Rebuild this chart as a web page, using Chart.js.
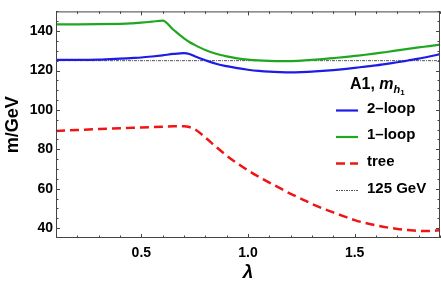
<!DOCTYPE html>
<html>
<head>
<meta charset="utf-8">
<script src="https://cdn.jsdelivr.net/npm/chart.js@4"></script>
<style>
  html, body { margin: 0; padding: 0; background: #fff; }
  #wrap { position: relative; width: 441px; height: 288px; }
</style>
</head>
<body>
<div id="wrap"><canvas id="massChart" width="441" height="288"></canvas></div>
<script>
// lambda values (x) shared by all curves
const lambdas = [0.1, 0.2, 0.3, 0.4, 0.45, 0.5, 0.55, 0.6, 0.65, 0.7, 0.725, 0.75,
    0.8, 0.85, 0.9, 0.95, 1.0, 1.05, 1.1, 1.15, 1.2, 1.25, 1.3, 1.35, 1.4, 1.45,
    1.5, 1.55, 1.6, 1.65, 1.7, 1.75, 1.8, 1.85, 1.9];

// m_h1 in GeV
const twoLoop = [125.4, 125.4, 125.5, 126.0, 126.3, 126.6, 127.1, 127.7, 128.4, 128.8, 128.4, 127.2,
    125.2, 123.4, 122.2, 121.2, 120.4, 119.8, 119.4, 119.2, 119.1, 119.2, 119.4, 119.8, 120.2, 120.7,
    121.3, 122.0, 122.6, 123.4, 124.2, 125.1, 126.0, 127.1, 128.3];
const oneLoop = [143.4, 143.4, 143.5, 143.7, 143.9, 144.3, 144.8, 145.3, 140.7, 136.3, 134.5, 133.0,
    130.4, 128.5, 127.2, 126.2, 125.5, 125.1, 124.9, 124.8, 124.8, 125.0, 125.4, 125.8, 126.3, 126.8,
    127.4, 128.0, 128.7, 129.4, 130.2, 131.0, 131.7, 132.4, 133.1];
const treeLevel = [89.3, 89.8, 90.3, 90.7, 90.9, 91.1, 91.3, 91.5, 91.7, 91.7, 91.3, 90.3,
    86.0, 81.3, 76.8, 72.9, 69.3, 66.1, 63.1, 60.3, 57.4, 54.9, 52.3, 50.0, 48.0, 46.0,
    44.1, 42.6, 41.4, 40.4, 39.6, 39.0, 38.6, 38.6, 38.9];
const refLambdas = [0.1, 1.9];
const refMass = [125, 125];

const seriesLabels = ['2\u2013loop', '1\u2013loop', 'tree', '125 GeV'];
const xTicks = [0.5, 1.0, 1.5];
const yTicks = [40, 60, 80, 100, 120, 140];
const xMinorStep = 0.1;
const yMinorStep = 5;

function pts(xs, ys) {
    return xs.map(function(x, i) { return { x: x, y: ys[i] }; });
}

Chart.defaults.font.family = '"Liberation Sans", Arial, sans-serif';
Chart.defaults.color = '#000';

// frame with small inward ticks on all four sides
const framePlugin = {
    id: 'frame',
    afterDatasetsDraw(chart) {
        const ctx = chart.ctx;
        const a = chart.chartArea;
        const xs = chart.scales.x, ys = chart.scales.y;
        ctx.save();
        ctx.strokeStyle = '#444';
        ctx.lineWidth = 1;
        ctx.strokeRect(a.left + 0.5, a.top + 0.5, a.right - a.left - 1, a.bottom - a.top - 1);
        ctx.beginPath();
        for (let v = xs.min; v <= xs.max + 1e-9; v += xMinorStep) {
            const major = xTicks.some(function(t) { return Math.abs(t - v) < 1e-6; });
            const len = major ? 4 : 2.5;
            const px = Math.round(xs.getPixelForValue(v)) + 0.5;
            ctx.moveTo(px, a.bottom); ctx.lineTo(px, a.bottom - len);
            ctx.moveTo(px, a.top); ctx.lineTo(px, a.top + len);
        }
        for (let v = 40; v <= ys.max; v += yMinorStep) {
            const major = yTicks.indexOf(v) >= 0;
            const len = major ? 4 : 2.5;
            const py = Math.round(ys.getPixelForValue(v)) + 0.5;
            ctx.moveTo(a.left, py); ctx.lineTo(a.left + len, py);
            ctx.moveTo(a.right, py); ctx.lineTo(a.right - len, py);
        }
        ctx.stroke();
        ctx.restore();
    }
};

// legend drawn inside the plot, with the sub-subscript title
const legendPlugin = {
    id: 'innerLegend',
    afterDraw(chart) {
        const ctx = chart.ctx;
        ctx.save();
        ctx.fillStyle = '#000';
        ctx.textBaseline = 'alphabetic';
        let x = 350;
        ctx.font = 'bold 16px "Liberation Sans", Arial, sans-serif';
        ctx.fillText('A1, ', x, 89);
        x += ctx.measureText('A1, ').width;
        ctx.font = 'italic bold 16px "Liberation Sans", Arial, sans-serif';
        ctx.fillText('m', x, 89);
        x += ctx.measureText('m').width;
        ctx.font = 'italic bold 11px "Liberation Sans", Arial, sans-serif';
        ctx.fillText('h', x, 93);
        x += ctx.measureText('h').width;
        ctx.font = 'bold 8px "Liberation Sans", Arial, sans-serif';
        ctx.fillText('1', x, 95);

        ctx.font = 'bold 15px "Liberation Sans", Arial, sans-serif';
        ctx.textBaseline = 'middle';
        const rows = [108.5, 135, 161.5, 188.5];
        chart.data.datasets.forEach(function(ds, i) {
            const y = rows[i];
            ctx.beginPath();
            ctx.strokeStyle = ds.borderColor;
            ctx.lineWidth = ds.borderWidth;
            ctx.setLineDash(i === 3 ? [2, 1, 1, 1] : (ds.borderDash || []));
            ctx.moveTo(336, y + 2);
            ctx.lineTo(358, y + 2);
            ctx.stroke();
            ctx.setLineDash([]);
            ctx.fillText(ds.label, 367, y);
        });
        ctx.restore();
    }
};

const canvas = document.getElementById('massChart');
new Chart(canvas.getContext('2d'), {
    type: 'line',
    data: {
        datasets: [{
            label: seriesLabels[0],
            data: pts(lambdas, twoLoop),
            borderColor: '#1c1ce6',
            borderWidth: 2.2,
            pointRadius: 0,
            cubicInterpolationMode: 'monotone'
        }, {
            label: seriesLabels[1],
            data: pts(lambdas, oneLoop),
            borderColor: '#1fa81f',
            borderWidth: 2.2,
            pointRadius: 0,
            cubicInterpolationMode: 'monotone'
        }, {
            label: seriesLabels[2],
            data: pts(lambdas, treeLevel),
            borderColor: '#f01414',
            borderWidth: 2.5,
            borderDash: [9, 5],
            pointRadius: 0,
            cubicInterpolationMode: 'monotone'
        }, {
            label: seriesLabels[3],
            data: pts(refLambdas, refMass),
            borderColor: '#555',
            borderWidth: 1,
            borderDash: [3, 1, 1, 1],
            pointRadius: 0
        }]
    },
    options: {
        responsive: false,
        animation: false,
        events: [],
        layout: { padding: { top: 0, right: 1, bottom: 0, left: 0 } },
        plugins: { legend: { display: false }, tooltip: { enabled: false } },
        scales: {
            x: {
                type: 'linear',
                min: 0.1,
                max: 1.9,
                afterBuildTicks: function(s) { s.ticks = xTicks.map(function(v) { return { value: v }; }); },
                afterFit: function(s) { s.height = 50; },
                grid: { display: false, drawTicks: false },
                border: { display: false },
                ticks: {
                    padding: 7,
                    maxRotation: 0,
                    font: { size: 14, weight: 'bold' },
                    callback: function(v) { return v.toFixed(1); }
                },
                title: {
                    display: true,
                    text: '\u03bb',
                    font: { size: 19, weight: 'bold', style: 'italic' },
                    padding: { top: 0, bottom: 4 }
                }
            },
            y: {
                min: 35,
                max: 150,
                afterBuildTicks: function(s) { s.ticks = yTicks.map(function(v) { return { value: v }; }); },
                afterFit: function(s) { s.width = 56; },
                grid: { display: false, drawTicks: false },
                border: { display: false },
                ticks: {
                    padding: 3,
                    font: { size: 14, weight: 'bold' }
                },
                title: {
                    display: true,
                    text: 'm/GeV',
                    font: { size: 18, weight: 'bold' },
                    padding: { top: 2, bottom: 0 }
                }
            }
        }
    },
    plugins: [framePlugin, legendPlugin]
});
</script>
</body>
</html>
